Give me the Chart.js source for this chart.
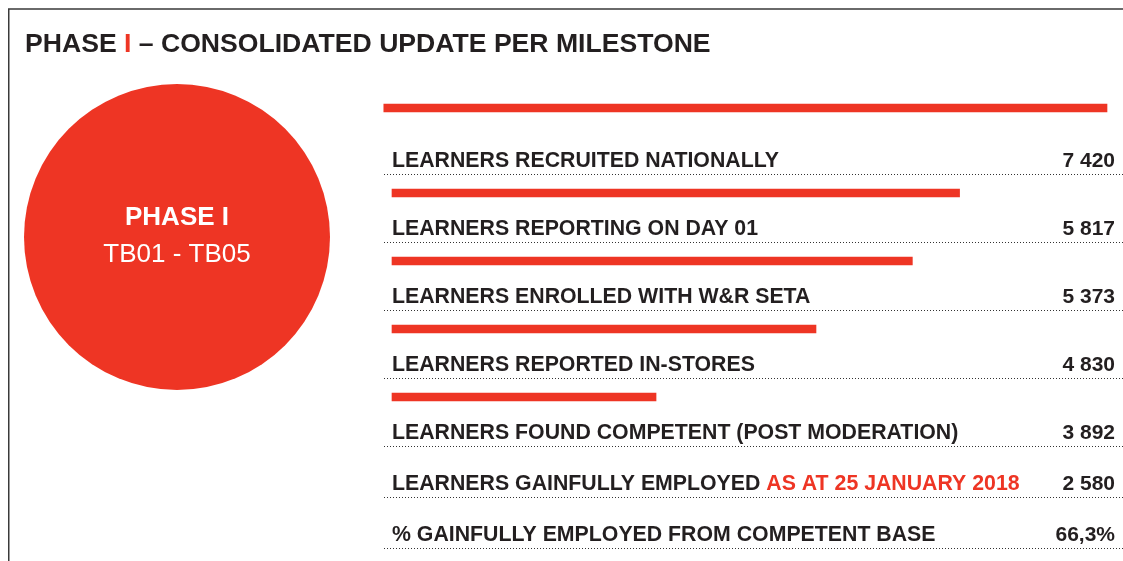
<!DOCTYPE html>
<html>
<head>
<meta charset="utf-8">
<script src="https://cdn.jsdelivr.net/npm/chart.js@4"></script>
<style>
  html, body { margin: 0; padding: 0; background: #fff; }
  canvas { display: block; }
</style>
</head>
<body>
<canvas id="myChart" width="1123" height="561"></canvas>
<script>
// milestone rows (label, red note, value)
var milestones = [
    'LEARNERS RECRUITED NATIONALLY',
    'LEARNERS REPORTING ON DAY 01',
    'LEARNERS ENROLLED WITH W&R SETA',
    'LEARNERS REPORTED IN-STORES',
    'LEARNERS FOUND COMPETENT (POST MODERATION)',
    'LEARNERS GAINFULLY EMPLOYED',
    '% GAINFULLY EMPLOYED FROM COMPETENT BASE'
];
var milestoneNotes = ['', '', '', '', '', 'AS AT 25 JANUARY 2018', ''];
var learnerCounts = [7420, 5817, 5373, 4830, 3892, 2580];
var percentEmployed = 66.3;

// bar lengths as drawn in the picture (first bar is the header rule)
var barLengths = [7420, 5890, 5400, 4400, 2740];
var headerBarStart = -85;

var RED = '#ee3524';
var INK = '#231f20';
var FONT = "'Liberation Sans', Arial, Helvetica, sans-serif";

function fmt(n) {
    return String(n).replace(/\B(?=(\d{3})+(?!\d))/g, ' ');
}
var valueLabels = learnerCounts.map(fmt);
valueLabels.push(String(percentEmployed).replace('.', ',') + '%');

// row layout: label rows are 68px apart, last two are tighter
var ROW_PX = 68, FIRST_ROW = 159, H = 561;
function rowPos(k) { return k < 5 ? k : 4 + (k - 4) * 0.75; }
function barPos(j) { return j === 0 ? -0.75 : j - 0.5; }

var barData = barLengths.map(function (v, j) {
    return { x: j === 0 ? [headerBarStart, v] : [0, v], y: barPos(j) };
});

var tablePlugin = {
    id: 'table',
    beforeDraw: function (chart) {
        var c = chart.ctx;
        c.save();
        // frame
        c.strokeStyle = '#3a3a3a';
        c.lineWidth = 1.5;
        c.beginPath();
        c.moveTo(1123, 9); c.lineTo(8.75, 9); c.lineTo(8.75, 561);
        c.stroke();

        // title
        c.font = 'bold 26.6px ' + FONT;
        c.textBaseline = 'alphabetic';
        c.textAlign = 'left';
        var x = 25;
        [['PHASE ', INK], ['I', RED], [' \u2013 CONSOLIDATED UPDATE PER MILESTONE', INK]].forEach(function (p) {
            c.fillStyle = p[1];
            c.fillText(p[0], x, 52);
            x += c.measureText(p[0]).width;
        });

        // circle
        c.fillStyle = RED;
        c.beginPath();
        c.arc(177, 237, 153, 0, Math.PI * 2);
        c.fill();
        c.fillStyle = '#fff';
        c.textAlign = 'center';
        c.font = 'bold 26px ' + FONT;
        c.fillText('PHASE I', 177, 225);
        c.font = '26px ' + FONT;
        c.fillText('TB01 - TB05', 177, 262);

        // rows
        var ys = chart.scales.y;
        milestones.forEach(function (label, k) {
            var py = ys.getPixelForValue(rowPos(k));
            c.font = 'bold 21.3px ' + FONT;
            c.textAlign = 'left';
            c.fillStyle = INK;
            c.fillText(label, 392, py + 7.5);
            if (milestoneNotes[k]) {
                var w = c.measureText(label + ' ').width;
                c.fillStyle = RED;
                c.fillText(milestoneNotes[k], 392 + w, py + 7.5);
            }
            c.font = 'bold 21px ' + FONT;
            c.textAlign = 'right';
            c.fillStyle = INK;
            c.fillText(valueLabels[k], 1115, py + 7.5);

            c.strokeStyle = '#333';
            c.lineWidth = 1;
            c.setLineDash([1, 2]);
            c.beginPath();
            c.moveTo(384, Math.round(py + 15) + 0.5);
            c.lineTo(1123, Math.round(py + 15) + 0.5);
            c.stroke();
            c.setLineDash([]);
        });
        c.restore();
    }
};

var ctx = document.getElementById('myChart').getContext('2d');
var myChart = new Chart(ctx, {
    type: 'bar',
    data: {
        datasets: [{
            data: barData,
            backgroundColor: RED,
            borderWidth: 0,
            barThickness: 8,
            clip: false
        }]
    },
    options: {
        indexAxis: 'y',
        responsive: false,
        animation: false,
        layout: { padding: { left: 392, right: 16, top: 0, bottom: 0 } },
        scales: {
            x: { type: 'linear', min: 0, max: 7420, display: false },
            y: {
                type: 'linear',
                reverse: true,
                offset: false,
                min: -FIRST_ROW / ROW_PX,
                max: (H - FIRST_ROW) / ROW_PX,
                display: false
            }
        },
        plugins: {
            legend: { display: false },
            tooltip: { enabled: false }
        }
    },
    plugins: [tablePlugin]
});
</script>
</body>
</html>
